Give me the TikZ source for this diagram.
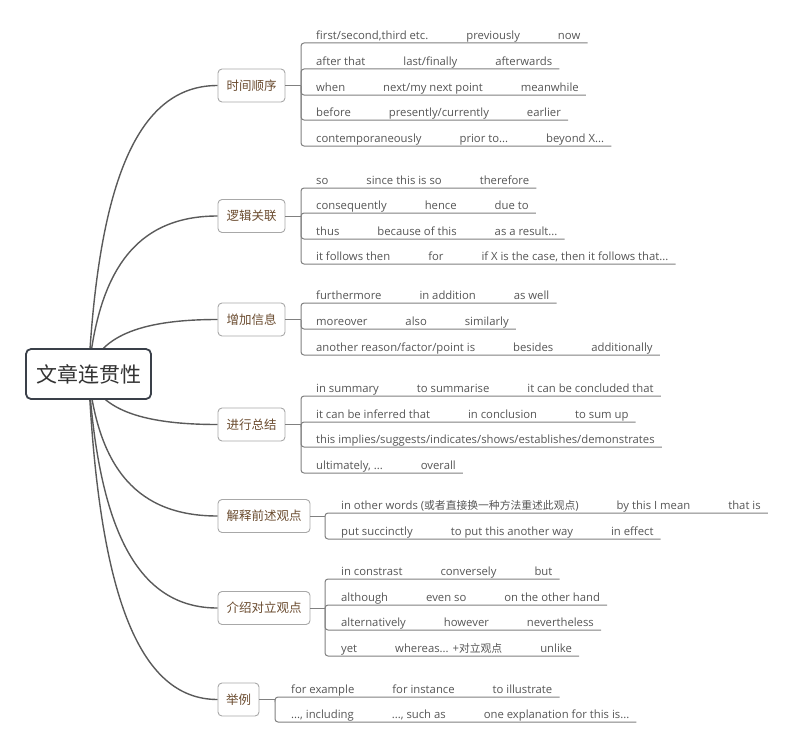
\documentclass[tikz,border=0pt]{standalone}
\usepackage{fontspec}
\setmainfont{Open Sans}
\newfontfamily\cjk{Noto Sans CJK SC}
\usetikzlibrary{backgrounds,calc}
\definecolor{curvec}{HTML}{5A5A5A}
\definecolor{leafc}{HTML}{808080}
\definecolor{leaftext}{HTML}{555555}
\definecolor{brtext}{HTML}{6B4C30}
\definecolor{brdraw}{HTML}{A8A8A8}
\definecolor{rootdraw}{HTML}{3A4049}
\newcommand\leafgap{\hspace{38pt}}
\tikzset{
  rootbox/.style={draw=rootdraw, line width=1.8pt, rounded corners=5pt, fill=white,
    minimum width=125pt, minimum height=50pt, inner sep=0pt,
    font=\cjk\fontsize{21}{21}\selectfont, text=black!80},
  branchbox/.style={draw=brdraw, line width=0.9pt, rounded corners=4pt, fill=white,
    minimum height=33pt, inner sep=0pt, font=\cjk\fontsize{12.5}{13}\selectfont, text=brtext},
  leafrow/.style={anchor=base west, inner sep=0pt, font=\fontsize{11.3}{12}\selectfont, text=leaftext},
  curveline/.style={draw=curvec, line width=1.4pt},
  leafline/.style={draw=leafc, line width=1pt, rounded corners=3pt},
}
\newcommand\rowend[1]{([xshift=7pt,yshift=-3.5pt]#1.base east)}
\begin{document}
\begin{tikzpicture}[x=1pt,y=-1pt]
\useasboundingbox (0,0) rectangle (800,752);
% root
\node[rootbox] (root) at (88.5,374) {文章连贯性};
% branches
\node[branchbox, minimum width=67pt] (t1) at (251.5,85.5) {时间顺序};
\node[branchbox, minimum width=67pt] (t2) at (251.5,216) {逻辑关联};
\node[branchbox, minimum width=67pt] (t3) at (251.5,319.5) {增加信息};
\node[branchbox, minimum width=67pt] (t4) at (251.5,424.5) {进行总结};
\node[branchbox, minimum width=92pt] (t5) at (264,516) {解释前述观点};
\node[branchbox, minimum width=92pt] (t6) at (264,608) {介绍对立观点};
\node[branchbox, minimum width=41pt] (t7) at (238.5,699.5) {举例};
% curves from root
\begin{scope}[on background layer]
\foreach \t in {t1,t2,t3,t4,t5,t6,t7}{
  \draw[curveline] (root.center) .. controls ($(root.center)!0.667!(root.center |- \t.west)+(10,0)$)
    and ($(\t.west)!0.667!(root.center |- \t.west)+(6,0)$) .. (\t.west);
}
\end{scope}
% stub points
\coordinate (s1) at (301,85.5);
\coordinate (s2) at (301,216);
\coordinate (s3) at (301,319.5);
\coordinate (s4) at (301,424.5);
\coordinate (s5) at (325,516);
\coordinate (s6) at (325,608);
\coordinate (s7) at (275,699.5);
\foreach \i in {1,...,7}{\draw[leafline] (t\i.east) -- (s\i);}
% branch 1
\node[leafrow] (r11) at (316,39.5) {first/second,third etc.\leafgap previously\leafgap now};
\node[leafrow] (r12) at (316,65.5) {after that\leafgap last/finally\leafgap afterwards};
\node[leafrow] (r13) at (316,91.5) {when\leafgap next/my next point\leafgap meanwhile};
\node[leafrow] (r14) at (316,116.5) {before\leafgap presently/currently\leafgap earlier};
\node[leafrow] (r15) at (316,142.5) {contemporaneously\leafgap prior to...\leafgap beyond X...};
% branch 2
\node[leafrow] (r21) at (316,184.5) {so\leafgap since this is so\leafgap therefore};
\node[leafrow] (r22) at (316,209.5) {consequently\leafgap hence\leafgap due to};
\node[leafrow] (r23) at (316,235.5) {thus\leafgap because of this\leafgap as a result...};
\node[leafrow] (r24) at (316,260.5) {it follows then\leafgap for\leafgap if X is the case, then it follows that...};
% branch 3
\node[leafrow] (r31) at (316,299.5) {furthermore\leafgap in addition\leafgap as well};
\node[leafrow] (r32) at (316,325.5) {moreover\leafgap also\leafgap similarly};
\node[leafrow] (r33) at (316,351.5) {another reason/factor/point is\leafgap besides\leafgap additionally};
% branch 4
\node[leafrow] (r41) at (316,392.5) {in summary\leafgap to summarise\leafgap it can be concluded that};
\node[leafrow] (r42) at (316,418.5) {it can be inferred that\leafgap in conclusion\leafgap to sum up};
\node[leafrow] (r43) at (316,443.5) {this implies/suggests/indicates/shows/establishes/demonstrates};
\node[leafrow] (r44) at (316,469.5) {ultimately, ...\leafgap overall};
% branch 5
\node[leafrow] (r51) at (341,509.5) {in other words ({\cjk\fontsize{10.8}{12}\selectfont 或者直接换一种方法重述此观点})\leafgap by this I mean\leafgap that is};
\node[leafrow] (r52) at (341,535.5) {put succinctly\leafgap to put this another way\leafgap in effect};
% branch 6
\node[leafrow] (r61) at (341,575.5) {in constrast\leafgap conversely\leafgap but};
\node[leafrow] (r62) at (341,601.5) {although\leafgap even so\leafgap on the other hand};
\node[leafrow] (r63) at (341,626.5) {alternatively\leafgap however\leafgap nevertheless};
\node[leafrow] (r64) at (341,652.5) {yet\leafgap whereas... +{\cjk\fontsize{10.8}{12}\selectfont 对立观点}\leafgap unlike};
% branch 7
\node[leafrow] (r71) at (291,693.5) {for example\leafgap for instance\leafgap to illustrate};
\node[leafrow] (r72) at (291,718.5) {..., including\leafgap ..., such as\leafgap one explanation for this is...};
% leaf connectors / underlines
\foreach \r in {r11,r12,r13,r14,r15}{\draw[leafline] (s1) |- \rowend{\r};}
\foreach \r in {r21,r22,r23,r24}{\draw[leafline] (s2) |- \rowend{\r};}
\foreach \r in {r31,r32,r33}{\draw[leafline] (s3) |- \rowend{\r};}
\foreach \r in {r41,r42,r43,r44}{\draw[leafline] (s4) |- \rowend{\r};}
\foreach \r in {r51,r52}{\draw[leafline] (s5) |- \rowend{\r};}
\foreach \r in {r61,r62,r63,r64}{\draw[leafline] (s6) |- \rowend{\r};}
\foreach \r in {r71,r72}{\draw[leafline] (s7) |- \rowend{\r};}
\end{tikzpicture}
\end{document}
